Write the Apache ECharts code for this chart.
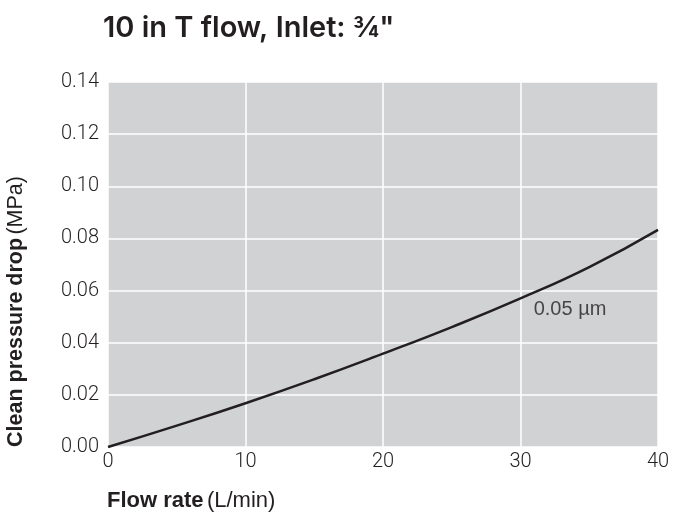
<!DOCTYPE html>
<html><head><meta charset="utf-8">
<script src="https://cdn.jsdelivr.net/npm/echarts@6/dist/echarts.min.js"></script>
<style>html,body{margin:0;padding:0;background:#fff}#c{width:675px;height:515px}</style>
</head><body><div id="c"></div>
<script>
const flowRate = [0, 5, 10, 15, 20, 25, 30, 35, 40];
const pressureDrop = [0, 0.0082, 0.0168, 0.026, 0.0358, 0.046, 0.057, 0.069, 0.0833];
const xTicks = [0, 10, 20, 30, 40];
const yTicks = [0, 0.02, 0.04, 0.06, 0.08, 0.10, 0.12, 0.14];
const seriesLabel = '0.05 µm';
const labelPos = [33.6, 0.0526];
const titleText = '10 in T flow, Inlet: ¾"';

const tickFont = 'Roboto, sans-serif';
const chart = echarts.init(document.getElementById('c'));
chart.setOption({
  animation: false,
  title: {
    text: titleText, left: 98, top: 9,
    textStyle: {fontFamily: 'Inter', fontWeight: 600, fontSize: 29, color: '#231f20'}
  },
  grid: {left: 108, right: 17, top: 82, bottom: 68, show: true, backgroundColor: '#d1d2d4', borderWidth: 0},
  xAxis: {
    type: 'value', min: xTicks[0], max: xTicks[xTicks.length - 1], interval: 10,
    axisLine: {show: false}, axisTick: {show: false},
    splitLine: {show: true, lineStyle: {color: '#ffffff', width: 1.5}},
    axisLabel: {fontFamily: tickFont, fontWeight: 300, fontSize: 20, color: '#231f20', margin: 5}
  },
  yAxis: {
    type: 'value', min: yTicks[0], max: yTicks[yTicks.length - 1], interval: 0.02,
    axisLine: {show: false}, axisTick: {show: false},
    splitLine: {show: true, lineStyle: {color: '#ffffff', width: 1.5}},
    axisLabel: {fontFamily: tickFont, fontWeight: 300, fontSize: 20, color: '#231f20', margin: 9,
      formatter: v => v.toFixed(2)}
  },
  series: [{
    type: 'line', data: flowRate.map((x, i) => [x, pressureDrop[i]]),
    smooth: true, showSymbol: false,
    lineStyle: {color: '#231f20', width: 2.5}
  }, {
    type: 'scatter', data: [labelPos], symbol: 'circle', symbolSize: 1,
    itemStyle: {color: 'rgba(0,0,0,0)'}, silent: true,
    label: {show: true, position: 'inside', formatter: seriesLabel,
      fontFamily: 'Liberation Sans, sans-serif', fontSize: 20, color: '#231f20'}
  }],
  graphic: [
    {type: 'text', left: 107, top: 490,
      style: {text: '{b|Flow rate} {n|(L/min)}', rich: {
        b: {fontFamily: 'Liberation Sans, sans-serif', fontWeight: 'bold', fontSize: 22, fill: '#231f20'},
        n: {fontFamily: 'Liberation Sans, sans-serif', fontSize: 22, fill: '#231f20'}}}},
    {type: 'text', x: 5, y: 447, rotation: Math.PI / 2,
      style: {text: '{b|Clean pressure drop} {n|(MPa)}', textAlign: 'left', textVerticalAlign: 'top', rich: {
        b: {fontFamily: 'Liberation Sans, sans-serif', fontWeight: 'bold', fontSize: 21.5, fill: '#231f20'},
        n: {fontFamily: 'Liberation Sans, sans-serif', fontSize: 21.5, fill: '#231f20'}}}}
  ]
});
</script></body></html>
